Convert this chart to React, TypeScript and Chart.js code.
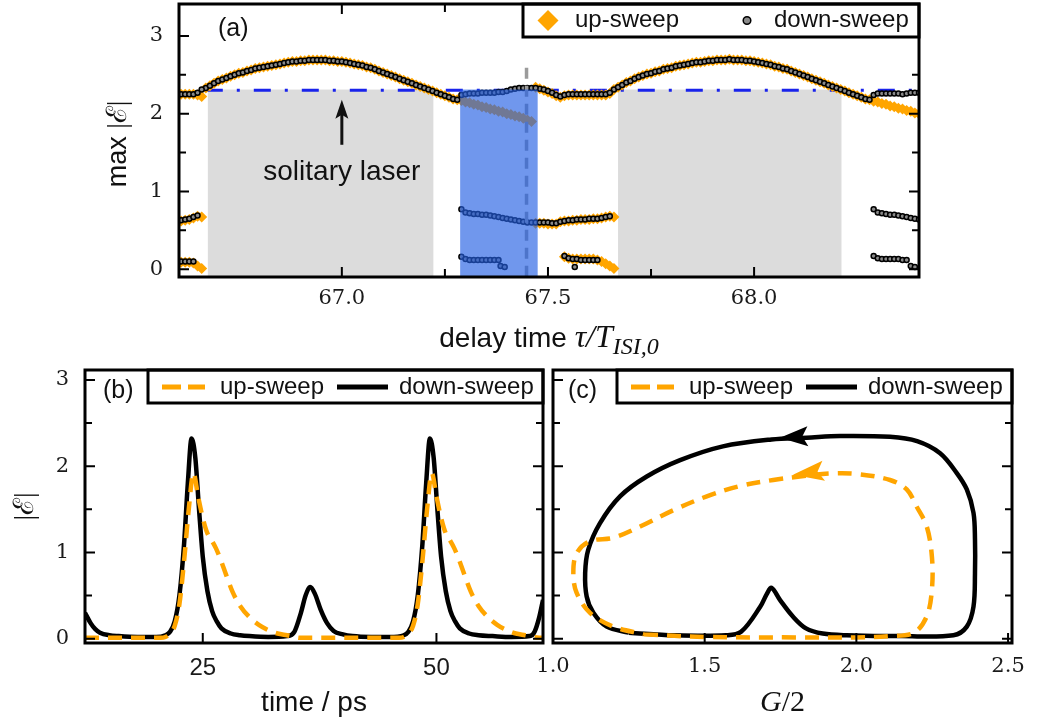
import React, { useEffect, useRef } from "react";
import { Chart, registerables } from "chart.js";

Chart.register(...registerables);

const ORANGE = "#ffa500";
const SANS = '"Liberation Sans", Arial, Helvetica, sans-serif';
const SERIF = '"DejaVu Serif", serif';
const MATH = '"Liberation Serif", "DejaVu Serif", serif';

// ================= panel (a): max |E| vs delay time =================
const DELAY_STEP = 0.01;
const delayMin = 66.605;
const delayMax = 68.4;
const maxAbsMin = -0.1;
const maxAbsMax = 3.41;
const delayTicks = [67.0, 67.5, 68.0];
const delayMinorTicks = [67.25, 67.75];
const absTicks = [0, 1, 2, 3];
const absMinorTicks = [0.5, 1.5, 2.5];

// main (largest-peak) branch
const downLeadIn = [2.25, 2.25, 2.25, 2.25, 2.27, 2.31]; // from 66.61
const upLeadIn = [2.25, 2.25, 2.25, 2.25, 2.24, 2.22]; // from 66.61
const arc1Max = [2.33, 2.36, 2.39, 2.42, 2.44, 2.46, 2.48, 2.5, 2.52, 2.53, 2.55, 2.56, 2.58, 2.59, 2.6, 2.61, 2.62, 2.63, 2.64, 2.65, 2.66, 2.67, 2.67, 2.68, 2.68, 2.69, 2.69, 2.69, 2.69, 2.69, 2.68, 2.68, 2.67, 2.67, 2.66, 2.65, 2.64, 2.63, 2.62, 2.6, 2.59, 2.57, 2.55, 2.53, 2.51, 2.49, 2.47, 2.45, 2.43, 2.41, 2.39, 2.37, 2.35, 2.33, 2.31, 2.29, 2.27, 2.25, 2.23, 2.21, 2.19, 2.18]; // from 66.67
const downBlue = [2.24, 2.25, 2.26, 2.26, 2.26, 2.27, 2.27, 2.27, 2.27, 2.28, 2.28, 2.29, 2.31, 2.32, 2.33, 2.33, 2.33, 2.33, 2.33]; // from 67.29
const upBlue = [2.17, 2.15, 2.14, 2.12, 2.11, 2.09, 2.08, 2.06, 2.05, 2.03, 2.02, 2.0, 1.99, 1.97, 1.96, 1.94, 1.92, 1.9]; // from 67.29
const downMid = [2.32, 2.31, 2.29, 2.27, 2.24, 2.22, 2.24, 2.25, 2.25, 2.25, 2.25, 2.25, 2.25, 2.25, 2.25, 2.25, 2.25, 2.27]; // from 67.48
const upMid = [2.34, 2.32, 2.3, 2.28, 2.26, 2.23, 2.21, 2.23, 2.24, 2.24, 2.24, 2.24, 2.24, 2.24, 2.24, 2.24, 2.24, 2.24, 2.26]; // from 67.47
const arc2Max = [2.31, 2.34, 2.37, 2.4, 2.42, 2.45, 2.47, 2.49, 2.51, 2.52, 2.54, 2.55, 2.57, 2.58, 2.59, 2.61, 2.62, 2.63, 2.64, 2.65, 2.66, 2.66, 2.67, 2.68, 2.68, 2.69, 2.69, 2.69, 2.7, 2.69, 2.69, 2.69, 2.68, 2.68, 2.67, 2.66, 2.65, 2.64, 2.63, 2.61, 2.6, 2.58, 2.57, 2.55, 2.53, 2.51, 2.49, 2.47, 2.45, 2.43, 2.41, 2.39, 2.37, 2.35, 2.33, 2.31, 2.29, 2.27, 2.25, 2.23, 2.21, 2.19, 2.18]; // from 67.66
const downTail = [2.24, 2.26, 2.26, 2.26, 2.26, 2.26, 2.26, 2.25, 2.26, 2.27, 2.27, 2.27]; // from 68.29
const upTail = [2.16, 2.15, 2.13, 2.12, 2.1, 2.09, 2.07, 2.06, 2.04, 2.03, 2.01, 2.0]; // from 68.29

// secondary peak branches
const downLowLeft1 = [0.63, 0.64, 0.65, 0.67, 0.69]; // from 66.61
const upLowLeft1 = [0.62, 0.63, 0.64, 0.66, 0.68, 0.67]; // from 66.61
const downLowLeft2 = [0.1, 0.1, 0.1, 0.1]; // from 66.61
const upLowLeft2 = [0.09, 0.09, 0.09, 0.08, 0.04, 0.01]; // from 66.61
const downMidUpper = [0.77, 0.73, 0.72, 0.71, 0.71, 0.7, 0.7, 0.69, 0.68, 0.67, 0.66, 0.65, 0.64, 0.63, 0.62, 0.61, 0.6, 0.6, 0.6, 0.6, 0.6, 0.6, 0.59, 0.59, 0.61, 0.62, 0.63, 0.63, 0.64, 0.64, 0.64, 0.65, 0.65, 0.65, 0.66, 0.67, 0.68]; // from 67.29
const upMidUpper = [0.59, 0.59, 0.59, 0.58, 0.58, 0.58, 0.61, 0.62, 0.62, 0.63, 0.63, 0.64, 0.64, 0.64, 0.65, 0.65, 0.66, 0.67, 0.68, 0.67]; // from 67.47
const downMidLower = [0.16, 0.13, 0.12, 0.12, 0.12, 0.12, 0.12, 0.12, 0.12, 0.12]; // from 67.29
const downMidDrop = [0.04, 0.03]; // from 67.385
const upRightLower = [0.16, 0.14, 0.13, 0.13, 0.13, 0.13, 0.13, 0.13, 0.12, 0.1, 0.07, 0.04, 0.01]; // from 67.54
const downRightLower = [0.17, 0.14, 0.13, 0.13, 0.12, 0.12, 0.12, 0.12, 0.12]; // from 67.54
const downRightDrop = [0.03]; // from 67.565
const downTailUpper = [0.77, 0.73, 0.72, 0.71, 0.7, 0.7, 0.69, 0.68, 0.67, 0.66, 0.65, 0.64]; // from 68.29
const downTailLower = [0.17, 0.14, 0.13, 0.13, 0.13, 0.13, 0.13, 0.12, 0.12]; // from 68.29
const downTailDrop = [0.04, 0.03]; // from 68.38

const downSweepSegments: [number, number[]][] = [
  [66.61, downLeadIn], [66.67, arc1Max], [67.29, downBlue], [67.48, downMid], [67.66, arc2Max], [68.29, downTail],
  [66.61, downLowLeft1], [66.61, downLowLeft2], [67.29, downMidUpper], [67.29, downMidLower], [67.385, downMidDrop],
  [67.54, downRightLower], [67.565, downRightDrop], [68.29, downTailUpper], [68.29, downTailLower], [68.38, downTailDrop],
];
const upSweepSegments: [number, number[]][] = [
  [66.61, upLeadIn], [66.67, arc1Max], [67.29, upBlue], [67.47, upMid], [67.66, arc2Max], [68.29, upTail],
  [66.61, upLowLeft1], [66.61, upLowLeft2], [67.47, upMidUpper], [67.54, upRightLower],
];

const grayBands: [number, number][] = [[66.675, 67.222], [67.67, 68.212]];
const blueBand: [number, number] = [67.287, 67.475];
const bandTop = 2.31;
const solitaryLevel = 2.3;
const solitaryFrom = 66.67;
const markerDelay = 67.448;
const markerTop = 2.59;
const arrowDelay = 67.0;
const arrowTail = 1.6;
const arrowTip = 2.18;
const labelLevel = 1.25;

// ================= panel (b): time traces =================
const timeMin = 12.4;
const timeMax = 61.4;
const traceMin = -0.05;
const traceMax = 3.115;
const timeTicks = [25, 50];
const timeDown = [12.4, 13.0, 13.5, 14.0, 15.0, 16.0, 18.0, 20.0, 21.0, 21.5, 22.0, 22.5, 23.0, 23.4, 23.8, 24.2, 24.6, 25.0, 25.5, 26.0, 26.5, 27.0, 28.0, 29.0, 30.0, 32.0, 34.0, 34.8, 35.5, 36.0, 36.5, 37.0, 37.6, 38.3, 39.0, 40.0, 41.0, 43.0, 45.0, 46.5, 47.0, 47.5, 48.0, 48.5, 48.9, 49.3, 49.7, 50.1, 50.5, 51.0, 51.5, 52.0, 52.5, 53.5, 54.5, 56.0, 58.0, 60.0, 60.5, 61.0, 61.4];
const absDown = [0.3, 0.18, 0.11, 0.07, 0.04, 0.03, 0.02, 0.02, 0.04, 0.08, 0.2, 0.5, 1.1, 1.8, 2.32, 2.1, 1.5, 0.95, 0.55, 0.32, 0.2, 0.12, 0.06, 0.04, 0.03, 0.02, 0.03, 0.08, 0.3, 0.5, 0.6, 0.52, 0.34, 0.18, 0.09, 0.05, 0.03, 0.02, 0.02, 0.04, 0.08, 0.2, 0.5, 1.1, 1.8, 2.32, 2.1, 1.5, 0.95, 0.55, 0.32, 0.2, 0.12, 0.06, 0.04, 0.03, 0.02, 0.03, 0.08, 0.25, 0.45];
const timeUp = [12.4, 18.0, 20.5, 21.0, 21.5, 22.0, 22.5, 23.0, 23.5, 24.0, 24.5, 25.0, 25.5, 25.9, 26.4, 26.9, 27.5, 28.2, 29.0, 30.0, 31.0, 32.0, 33.0, 34.0, 35.5, 40.0, 46.0, 46.5, 47.0, 47.5, 48.0, 48.5, 49.0, 49.5, 50.0, 50.5, 51.0, 51.4, 51.9, 52.4, 53.0, 53.7, 54.5, 55.5, 56.5, 57.5, 58.5, 59.5, 61.0, 61.4];
const absUp = [0.01, 0.01, 0.01, 0.02, 0.06, 0.15, 0.4, 0.9, 1.5, 1.92, 1.65, 1.4, 1.22, 1.15, 1.05, 0.92, 0.74, 0.54, 0.38, 0.25, 0.16, 0.1, 0.06, 0.04, 0.01, 0.01, 0.01, 0.02, 0.06, 0.15, 0.4, 0.9, 1.5, 1.92, 1.65, 1.4, 1.22, 1.15, 1.05, 0.92, 0.74, 0.54, 0.38, 0.25, 0.16, 0.1, 0.06, 0.04, 0.01, 0.01];

// ================= panel (c): phase portrait =================
const gainMin = 1.0;
const gainMax = 2.513;
const gainTicks = [1.0, 1.5, 2.0, 2.5];
const gDown = [1.25, 1.4, 1.57, 1.62, 1.683, 1.705, 1.72, 1.748, 1.79, 1.834, 1.889, 1.967, 2.15, 2.32, 2.364, 2.386, 2.391, 2.391, 2.386, 2.364, 2.331, 2.276, 2.2, 2.111, 1.946, 1.836, 1.72, 1.56, 1.419, 1.309, 1.221, 1.155, 1.116, 1.106, 1.111, 1.133, 1.177, 1.25];
const absDownC = [0.07, 0.04, 0.04, 0.08, 0.37, 0.52, 0.59, 0.45, 0.26, 0.12, 0.06, 0.04, 0.03, 0.04, 0.14, 0.37, 0.76, 1.15, 1.46, 1.73, 1.92, 2.15, 2.29, 2.34, 2.35, 2.33, 2.31, 2.23, 2.07, 1.88, 1.65, 1.34, 1.03, 0.76, 0.49, 0.3, 0.14, 0.07];
const gUp = [1.3, 1.5, 1.8, 2.0, 2.11, 2.19, 2.232, 2.249, 2.249, 2.232, 2.199, 2.166, 2.111, 2.0, 1.913, 1.836, 1.726, 1.617, 1.507, 1.397, 1.287, 1.199, 1.122, 1.078, 1.067, 1.078, 1.122, 1.199, 1.3];
const absUpC = [0.05, 0.02, 0.015, 0.015, 0.03, 0.07, 0.26, 0.57, 0.95, 1.3, 1.53, 1.73, 1.84, 1.91, 1.915, 1.89, 1.84, 1.77, 1.65, 1.49, 1.3, 1.17, 1.13, 0.99, 0.76, 0.53, 0.3, 0.14, 0.05];
const flowArrows = [
  { x: 1.748, y: 2.33, color: "#000000", angle: -0.05, len: 28, half: 10 },
  { x: 1.791, y: 1.9, color: ORANGE, angle: -0.13, len: 31, half: 10 },
];

// ================= helpers =================
type Pt = { x: number; y: number };
const seg = (x0: number, ys: number[]): Pt[] =>
  ys.map((y, i) => ({ x: Math.round((x0 + i * DELAY_STEP) * 1000) / 1000, y }));
const pairs = (xs: number[], ys: number[]): Pt[] => xs.map((x, i) => ({ x, y: ys[i] }));

type Run = { text: string; font: string; dy?: number };
function drawRuns(ctx: CanvasRenderingContext2D, runs: Run[], cx: number, baseline: number) {
  const widths = runs.map((r) => {
    ctx.font = r.font;
    return ctx.measureText(r.text).width;
  });
  const total = widths.reduce((s, w) => s + w, 0);
  let x = cx - total / 2;
  ctx.textAlign = "left";
  ctx.textBaseline = "alphabetic";
  runs.forEach((r, i) => {
    ctx.font = r.font;
    ctx.fillText(r.text, x, baseline + (r.dy || 0));
    x += widths[i];
  });
}

function inwardTicks(chart: any, xMajor: number[], xMinor: number[], yMajor: number[], yMinor: number[]) {
  const { ctx, chartArea: a, scales } = chart;
  const X = (v: number) => scales.x.getPixelForValue(v);
  const Y = (v: number) => scales.y.getPixelForValue(v);
  ctx.save();
  ctx.strokeStyle = "#000";
  ctx.lineWidth = 2;
  ctx.beginPath();
  const vx = (v: number, len: number) => {
    const p = X(v);
    ctx.moveTo(p, a.bottom);
    ctx.lineTo(p, a.bottom - len);
    ctx.moveTo(p, a.top);
    ctx.lineTo(p, a.top + len);
  };
  const hy = (v: number, len: number) => {
    const p = Y(v);
    ctx.moveTo(a.left, p);
    ctx.lineTo(a.left + len, p);
    ctx.moveTo(a.right, p);
    ctx.lineTo(a.right - len, p);
  };
  xMajor.forEach((v) => vx(v, 10));
  xMinor.forEach((v) => vx(v, 8));
  yMajor.forEach((v) => hy(v, 10));
  yMinor.forEach((v) => hy(v, 7));
  ctx.stroke();
  ctx.restore();
}

function frame(chart: any) {
  const { ctx, chartArea: a } = chart;
  ctx.save();
  ctx.strokeStyle = "#000";
  ctx.lineWidth = 3;
  ctx.strokeRect(a.left, a.top, a.right - a.left, a.bottom - a.top);
  ctx.restore();
}

function legendBox(ctx: CanvasRenderingContext2D, l: number, t: number, r: number, b: number) {
  ctx.fillStyle = "#fff";
  ctx.fillRect(l, t, r - l, b - t);
  ctx.strokeStyle = "#000";
  ctx.lineWidth = 3;
  ctx.strokeRect(l, t, r - l, b - t);
}

function panelLabel(ctx: CanvasRenderingContext2D, text: string, x: number, y: number) {
  ctx.fillStyle = "#111";
  ctx.font = `25px ${SANS}`;
  ctx.textAlign = "left";
  ctx.textBaseline = "middle";
  ctx.fillText(text, x, y);
}

function lineLegend(chart: any) {
  const { ctx, chartArea: a } = chart;
  const l = a.right - 395;
  const t = a.top;
  const b = a.top + 33;
  const cy = t + 17;
  ctx.save();
  legendBox(ctx, l, t, a.right, b);
  ctx.lineWidth = 5;
  ctx.strokeStyle = ORANGE;
  ctx.beginPath();
  ctx.moveTo(l + 14, cy);
  ctx.lineTo(l + 33, cy);
  ctx.moveTo(l + 40, cy);
  ctx.lineTo(l + 57, cy);
  ctx.stroke();
  ctx.strokeStyle = "#000";
  ctx.beginPath();
  ctx.moveTo(l + 189, cy);
  ctx.lineTo(l + 240, cy);
  ctx.stroke();
  ctx.fillStyle = "#111";
  ctx.font = `24px ${SANS}`;
  ctx.textAlign = "left";
  ctx.textBaseline = "middle";
  ctx.fillText("up-sweep", l + 72, cy);
  ctx.fillText("down-sweep", l + 251, cy);
  ctx.restore();
}

function xAxis(min: number, max: number, ticks: number[], fmt: (v: number) => string, font: any, padding: number, height: number) {
  return {
    type: "linear",
    min,
    max,
    afterBuildTicks: (s: any) => {
      s.ticks = ticks.map((value) => ({ value }));
    },
    afterFit: (s: any) => {
      s.height = height;
      s.paddingLeft = 0;
      s.paddingRight = 0;
      s.paddingTop = 0;
      s.paddingBottom = 0;
    },
    grid: { display: false, drawTicks: false },
    border: { display: false },
    ticks: { padding, color: "#1a1a1a", font, maxRotation: 0, minRotation: 0, autoSkip: false, callback: (v: any) => fmt(Number(v)) },
  };
}

function yAxis(min: number, max: number, ticks: number[], width: number, show: boolean) {
  return {
    type: "linear",
    display: show,
    min,
    max,
    afterBuildTicks: (s: any) => {
      s.ticks = ticks.map((value) => ({ value }));
    },
    afterFit: (s: any) => {
      s.width = width;
      s.paddingLeft = 0;
      s.paddingRight = 0;
      s.paddingTop = 0;
      s.paddingBottom = 0;
    },
    grid: { display: false, drawTicks: false },
    border: { display: false },
    ticks: { padding: 16, color: "#1a1a1a", font: { family: SERIF, size: 21 }, autoSkip: false, callback: (v: any) => String(Number(v)) },
  };
}

const baseOptions = (padding: any) => ({
  animation: false,
  responsive: false,
  events: [],
  layout: { padding, autoPadding: false },
  plugins: { legend: { display: false }, tooltip: { enabled: false } },
});

// ================= chart configs =================
function configA(): any {
  const downStyle = {
    showLine: false,
    pointStyle: "circle",
    pointRadius: 2.5,
    pointBackgroundColor: "#8a8a8a",
    pointBorderColor: "#000",
    pointBorderWidth: 1.5,
    order: 1,
  };
  const upStyle = {
    showLine: false,
    pointStyle: "rectRot",
    pointRadius: 5.5,
    pointBackgroundColor: ORANGE,
    pointBorderColor: ORANGE,
    pointBorderWidth: 0,
    order: 2,
  };
  const datasets = [
    ...downSweepSegments.map(([x0, ys]) => ({ data: seg(x0, ys), ...downStyle })),
    ...upSweepSegments.map(([x0, ys]) => ({ data: seg(x0, ys), ...upStyle })),
  ];
  const decor = {
    id: "decorA",
    beforeDatasetsDraw(chart: any) {
      const { ctx, chartArea: a, scales } = chart;
      const X = (v: number) => scales.x.getPixelForValue(v);
      const Y = (v: number) => scales.y.getPixelForValue(v);
      ctx.save();
      ctx.beginPath();
      ctx.rect(a.left, a.top, a.right - a.left, a.bottom - a.top);
      ctx.clip();
      ctx.fillStyle = "#dcdcdc";
      grayBands.forEach(([s, e]) => ctx.fillRect(X(s), Y(bandTop), X(e) - X(s), a.bottom - Y(bandTop)));
      ctx.strokeStyle = "rgb(25,35,235)";
      ctx.lineWidth = 3;
      ctx.setLineDash([17, 14, 3, 14]);
      ctx.beginPath();
      ctx.moveTo(X(solitaryFrom), Y(solitaryLevel));
      ctx.lineTo(X(delayMax), Y(solitaryLevel));
      ctx.stroke();
      ctx.restore();
    },
    afterDatasetsDraw(chart: any) {
      const { ctx, chartArea: a, scales } = chart;
      const X = (v: number) => scales.x.getPixelForValue(v);
      const Y = (v: number) => scales.y.getPixelForValue(v);
      ctx.save();
      ctx.beginPath();
      ctx.rect(a.left, a.top, a.right - a.left, a.bottom - a.top);
      ctx.clip();
      ctx.strokeStyle = "#9b9b9b";
      ctx.lineWidth = 3.5;
      ctx.setLineDash([11, 7]);
      ctx.beginPath();
      ctx.moveTo(X(markerDelay), Y(markerTop));
      ctx.lineTo(X(markerDelay), a.bottom);
      ctx.stroke();
      ctx.setLineDash([]);
      ctx.fillStyle = "rgba(35,95,228,0.65)";
      ctx.fillRect(X(blueBand[0]), Y(bandTop), X(blueBand[1]) - X(blueBand[0]), a.bottom - Y(bandTop));
      const ax = X(arrowDelay);
      const tip = Y(arrowTip);
      ctx.strokeStyle = "#111";
      ctx.fillStyle = "#111";
      ctx.lineWidth = 3;
      ctx.beginPath();
      ctx.moveTo(ax, Y(arrowTail));
      ctx.lineTo(ax, tip + 10);
      ctx.stroke();
      ctx.beginPath();
      ctx.moveTo(ax, tip);
      ctx.lineTo(ax - 6.5, tip + 19);
      ctx.lineTo(ax, tip + 15);
      ctx.lineTo(ax + 6.5, tip + 19);
      ctx.closePath();
      ctx.fill();
      ctx.font = `28px ${SANS}`;
      ctx.textAlign = "center";
      ctx.textBaseline = "middle";
      ctx.fillText("solitary laser", ax, Y(labelLevel));
      ctx.restore();
    },
    afterDraw(chart: any) {
      const { ctx, chartArea: a } = chart;
      inwardTicks(chart, delayTicks, delayMinorTicks, absTicks, absMinorTicks);
      ctx.save();
      const l = a.right - 396;
      const t = a.top;
      const b = a.top + 33;
      const cy = t + 16.5;
      legendBox(ctx, l, t, a.right, b);
      ctx.fillStyle = ORANGE;
      ctx.beginPath();
      ctx.moveTo(l + 25, cy - 10.5);
      ctx.lineTo(l + 35.5, cy);
      ctx.lineTo(l + 25, cy + 10.5);
      ctx.lineTo(l + 14.5, cy);
      ctx.closePath();
      ctx.fill();
      ctx.beginPath();
      ctx.arc(l + 224, cy, 3.8, 0, Math.PI * 2);
      ctx.fillStyle = "#8a8a8a";
      ctx.fill();
      ctx.lineWidth = 1.5;
      ctx.strokeStyle = "#000";
      ctx.stroke();
      ctx.fillStyle = "#111";
      ctx.font = `24px ${SANS}`;
      ctx.textAlign = "left";
      ctx.textBaseline = "middle";
      ctx.fillText("up-sweep", l + 52, cy);
      ctx.fillText("down-sweep", l + 251, cy);
      ctx.restore();
      frame(chart);
      ctx.save();
      panelLabel(ctx, "(a)", a.left + 39, a.top + 25);
      ctx.fillStyle = "#111";
      drawRuns(
        ctx,
        [
          { text: "delay time ", font: `28px ${SANS}` },
          { text: "τ/T", font: `italic 32px ${MATH}` },
          { text: "ISI,0", font: `italic 24px ${MATH}`, dy: 7 },
        ],
        (a.left + a.right) / 2,
        347
      );
      ctx.translate(118, 144);
      ctx.rotate(-Math.PI / 2);
      drawRuns(
        ctx,
        [
          { text: "max ", font: `27px ${SANS}` },
          { text: "|ℰ|", font: `28px ${MATH}` },
        ],
        0,
        8
      );
      ctx.restore();
    },
  };
  return {
    type: "scatter",
    data: { datasets },
    options: {
      ...baseOptions({ left: 0, top: 4, right: 122, bottom: 0 }),
      scales: {
        x: xAxis(delayMin, delayMax, delayTicks, (v) => v.toFixed(1), { family: SERIF, size: 21 }, 9, 83),
        y: yAxis(maxAbsMin, maxAbsMax, absTicks, 179, true),
      },
    },
    plugins: [decor],
  };
}

function lineDatasets(down: Pt[], up: Pt[], smooth: any) {
  return [
    { data: up, showLine: true, borderColor: ORANGE, borderWidth: 4.5, borderDash: [14, 9], pointRadius: 0, order: 1, ...smooth },
    { data: down, showLine: true, borderColor: "#000", borderWidth: 4.5, pointRadius: 0, order: 2, ...smooth },
  ];
}

function configB(): any {
  const decor = {
    id: "decorB",
    afterDraw(chart: any) {
      const { ctx, chartArea: a } = chart;
      inwardTicks(chart, timeTicks, [], absTicks, absMinorTicks);
      lineLegend(chart);
      frame(chart);
      ctx.save();
      panelLabel(ctx, "(b)", a.left + 18, a.top + 21);
      ctx.fillStyle = "#111";
      drawRuns(ctx, [{ text: "time / ps", font: `28px ${SANS}` }], (a.left + a.right) / 2, 356);
      ctx.translate(25, (a.top + a.bottom) / 2);
      ctx.rotate(-Math.PI / 2);
      drawRuns(ctx, [{ text: "|ℰ|", font: `28px ${MATH}` }], 0, 8);
      ctx.restore();
    },
  };
  return {
    type: "scatter",
    data: { datasets: lineDatasets(pairs(timeDown, absDown), pairs(timeUp, absUp), { cubicInterpolationMode: "monotone" }) },
    options: {
      ...baseOptions({ left: 0, top: 15, right: 5, bottom: 0 }),
      scales: {
        x: xAxis(timeMin, timeMax, timeTicks, (v) => String(v), { family: SANS, size: 24 }, 11, 82),
        y: yAxis(traceMin, traceMax, absTicks, 85, true),
      },
    },
    plugins: [decor],
  };
}

function configC(): any {
  const decor = {
    id: "decorC",
    afterDatasetsDraw(chart: any) {
      const { ctx, scales } = chart;
      ctx.save();
      flowArrows.forEach((f) => {
        ctx.save();
        ctx.translate(scales.x.getPixelForValue(f.x), scales.y.getPixelForValue(f.y));
        ctx.rotate(f.angle);
        ctx.beginPath();
        ctx.moveTo(0, 0);
        ctx.lineTo(f.len, -f.half);
        ctx.lineTo(f.len * 0.8, 0);
        ctx.lineTo(f.len, f.half);
        ctx.closePath();
        ctx.fillStyle = f.color;
        ctx.fill();
        ctx.restore();
      });
      ctx.restore();
    },
    afterDraw(chart: any) {
      const { ctx, chartArea: a } = chart;
      inwardTicks(chart, gainTicks, [], absTicks, absMinorTicks);
      lineLegend(chart);
      frame(chart);
      ctx.save();
      panelLabel(ctx, "(c)", a.left + 15, a.top + 21);
      ctx.fillStyle = "#111";
      drawRuns(
        ctx,
        [
          { text: "G", font: `italic 30px ${MATH}` },
          { text: "/2", font: `30px ${MATH}` },
        ],
        (a.left + a.right) / 2,
        356
      );
      ctx.restore();
    },
  };
  return {
    type: "scatter",
    data: { datasets: lineDatasets(pairs(gDown, absDownC), pairs(gUp, absUpC), { tension: 0.35 }) },
    options: {
      ...baseOptions({ left: 33, top: 15, right: 29, bottom: 0 }),
      scales: {
        x: xAxis(gainMin, gainMax, gainTicks, (v) => v.toFixed(1), { family: SERIF, size: 21 }, 11, 82),
        y: yAxis(traceMin, traceMax, absTicks, 0, false),
      },
    },
    plugins: [decor],
  };
}

export default function App() {
  const refA = useRef<HTMLCanvasElement>(null);
  const refB = useRef<HTMLCanvasElement>(null);
  const refC = useRef<HTMLCanvasElement>(null);
  useEffect(() => {
    const charts = [
      new Chart(refA.current as HTMLCanvasElement, configA()),
      new Chart(refB.current as HTMLCanvasElement, configB()),
      new Chart(refC.current as HTMLCanvasElement, configC()),
    ];
    return () => charts.forEach((c) => c.destroy());
  }, []);
  return (
    <div style={{ position: "absolute", left: 0, top: 0, width: 1041, height: 725, background: "#fff", overflow: "hidden" }}>
      <canvas ref={refA} width={1041} height={360} style={{ position: "absolute", left: 0, top: 0, width: 1041, height: 360 }} />
      <canvas ref={refB} width={548} height={370} style={{ position: "absolute", left: 0, top: 355, width: 548, height: 370 }} />
      <canvas ref={refC} width={521} height={370} style={{ position: "absolute", left: 520, top: 355, width: 521, height: 370 }} />
    </div>
  );
}
